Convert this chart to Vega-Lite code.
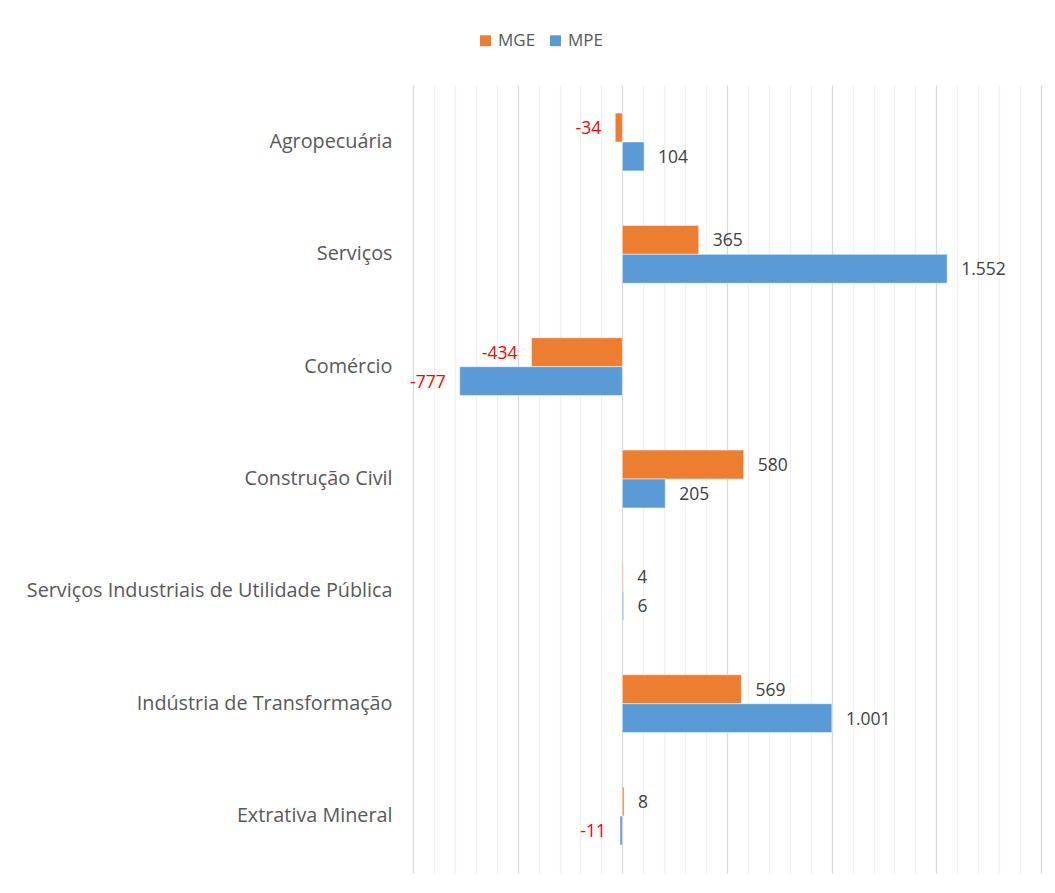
{
  "$schema": "https://vega.github.io/schema/vega-lite/v6.json",
  "autosize": "none",
  "width": 628,
  "height": 788,
  "padding": {"left": 413, "top": 85, "right": 14, "bottom": 20},
  "background": "white",
  "config": {
    "view": {"stroke": null},
    "font": "Open Sans",
    "locale": {"number": {"decimal": ",", "thousands": ".", "grouping": [3], "currency": ["R$", ""], "minus": "-"}}
  },
  "data": {
    "values": [
      {"setor": "Agropecuária", "porte": "MGE", "saldo": -34},
      {"setor": "Agropecuária", "porte": "MPE", "saldo": 104},
      {"setor": "Serviços", "porte": "MGE", "saldo": 365},
      {"setor": "Serviços", "porte": "MPE", "saldo": 1552},
      {"setor": "Comércio", "porte": "MGE", "saldo": -434},
      {"setor": "Comércio", "porte": "MPE", "saldo": -777},
      {"setor": "Construção Civil", "porte": "MGE", "saldo": 580},
      {"setor": "Construção Civil", "porte": "MPE", "saldo": 205},
      {"setor": "Serviços Industriais de Utilidade Pública", "porte": "MGE", "saldo": 4},
      {"setor": "Serviços Industriais de Utilidade Pública", "porte": "MPE", "saldo": 6},
      {"setor": "Indústria de Transformação", "porte": "MGE", "saldo": 569},
      {"setor": "Indústria de Transformação", "porte": "MPE", "saldo": 1001},
      {"setor": "Extrativa Mineral", "porte": "MGE", "saldo": 8},
      {"setor": "Extrativa Mineral", "porte": "MPE", "saldo": -11}
    ]
  },
  "encoding": {
    "y": {
      "field": "setor",
      "type": "nominal",
      "sort": null,
      "scale": {"paddingInner": 0.485, "paddingOuter": 0.25},
      "axis": {
        "title": null,
        "domain": false,
        "ticks": false,
        "labelPadding": 21,
        "labelFontSize": 19.8,
        "labelColor": "#595959",
        "labelFont": "Open Sans",
        "labelLimit": 500
      }
    },
    "yOffset": {"field": "porte", "type": "nominal", "sort": ["MGE", "MPE"]},
    "x": {
      "field": "saldo",
      "type": "quantitative",
      "scale": {"domain": [-1000, 2000], "nice": false, "zero": true},
      "axis": {
        "title": null,
        "labels": false,
        "ticks": false,
        "domain": false,
        "values": [-1000, -900, -800, -700, -600, -500, -400, -300, -200, -100, 0, 100, 200, 300, 400, 500, 600, 700, 800, 900, 1000, 1100, 1200, 1300, 1400, 1500, 1600, 1700, 1800, 1900, 2000],
        "gridColor": {"condition": {"test": "datum.value % 500 === 0", "value": "#d9d9d9"}, "value": "#f0f0f0"},
        "gridWidth": 1.3
      }
    }
  },
  "layer": [
    {
      "mark": {"type": "bar", "stroke": "white", "strokeOpacity": 0.5, "strokeWidth": 1},
      "encoding": {
        "color": {
          "field": "porte",
          "type": "nominal",
          "scale": {"domain": ["MGE", "MPE"], "range": ["#ED7D31", "#5B9BD5"]},
          "legend": {
            "title": null,
            "orient": "none",
            "legendX": 64,
            "legendY": -53,
            "direction": "horizontal",
            "symbolType": "square",
            "symbolSize": 120,
            "symbolStrokeWidth": 0,
            "labelFontSize": 17,
            "labelColor": "#595959",
            "labelFont": "Open Sans",
            "columnPadding": 11,
            "labelOffset": 4
          }
        }
      }
    },
    {
      "transform": [{"filter": "datum.saldo >= 0"}],
      "mark": {"type": "text", "align": "left", "baseline": "middle", "dx": 14, "dy": 1.5, "fontSize": 17.5, "color": "#404040", "font": "Open Sans"},
      "encoding": {"text": {"field": "saldo", "type": "quantitative", "format": ",d"}}
    },
    {
      "transform": [{"filter": "datum.saldo < 0"}],
      "mark": {"type": "text", "align": "right", "baseline": "middle", "dx": -14, "dy": 1.5, "fontSize": 17.5, "color": "#FF0000", "font": "Open Sans"},
      "encoding": {"text": {"field": "saldo", "type": "quantitative", "format": ",d"}}
    }
  ]
}
